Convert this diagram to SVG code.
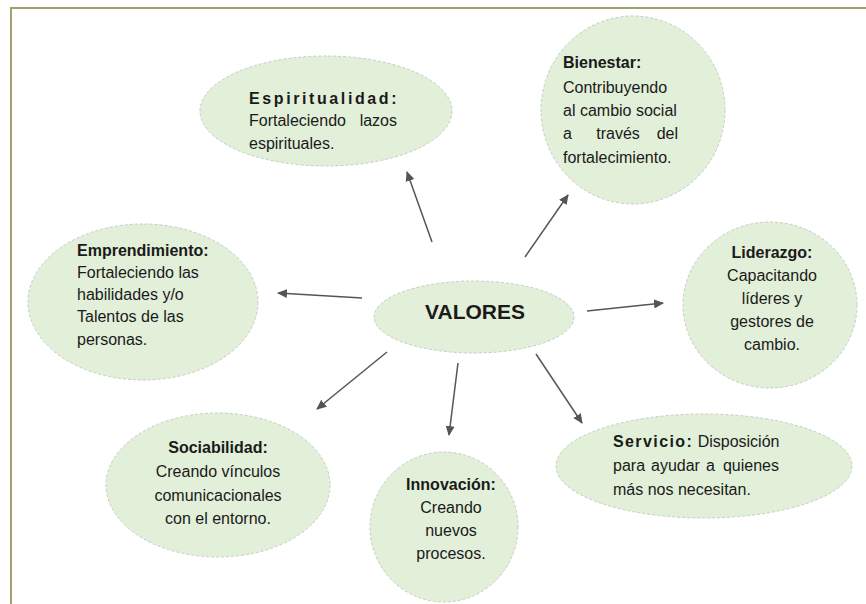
<svg xmlns="http://www.w3.org/2000/svg" width="866" height="604" viewBox="0 0 866 604">
<defs>
<marker id="ah" viewBox="0 0 10 10" refX="9" refY="5" markerWidth="10" markerHeight="10" markerUnits="userSpaceOnUse" orient="auto">
<path d="M0,0.5 L10,5 L0,9.5 Z" fill="#555555"/>
</marker>
<style>
.el{fill:#e2efd9;stroke:#c5ccc6;stroke-width:1;stroke-dasharray:3 2}
.t{font-family:"Liberation Sans",Arial,sans-serif;font-size:16px;fill:#1a1a1a}
.b{font-weight:bold}
.c{text-anchor:middle}
.e{text-anchor:end}
.ar{stroke:#555555;stroke-width:1.5;fill:none;marker-end:url(#ah)}
</style>
</defs>
<rect x="0" y="0" width="866" height="604" fill="#ffffff"/>
<rect x="11" y="8" width="900" height="640" fill="none" stroke="#a39f6f" stroke-width="2"/>

<g id="connectors">
<line class="ar" x1="432" y1="242" x2="407" y2="172"/>
<line class="ar" x1="525" y1="257" x2="568" y2="195"/>
<line class="ar" x1="362" y1="298" x2="278" y2="293"/>
<line class="ar" x1="587" y1="311" x2="663" y2="303"/>
<line class="ar" x1="387" y1="352" x2="317" y2="409"/>
<line class="ar" x1="458" y1="363" x2="449" y2="435"/>
<line class="ar" x1="536" y1="354" x2="582" y2="423"/>
</g>

<g id="valores">
<ellipse class="el" cx="474" cy="317" rx="100" ry="36"/>
<text class="t b c" x="475" y="319" style="font-size:21px">VALORES</text>
</g>

<g id="espiritualidad">
<ellipse class="el" cx="326" cy="111" rx="126" ry="55"/>
<text class="t b" x="249" y="104" letter-spacing="2.6">Espiritualidad:</text>
<text class="t" x="249" y="126">Fortaleciendo</text>
<text class="t e" x="397" y="126">lazos</text>
<text class="t" x="249" y="149">espirituales.</text>
</g>

<g id="bienestar">
<ellipse class="el" cx="633" cy="110" rx="92" ry="94"/>
<text class="t b" x="563" y="68">Bienestar:</text>
<text class="t" x="563" y="93">Contribuyendo</text>
<text class="t" x="563" y="116">al cambio social</text>
<text class="t" x="563" y="139">a</text>
<text class="t c" x="618" y="139">través</text>
<text class="t e" x="678" y="139">del</text>
<text class="t" x="563" y="163">fortalecimiento.</text>
</g>

<g id="emprendimiento">
<ellipse class="el" cx="143" cy="302" rx="115" ry="78"/>
<text class="t b" x="77" y="256">Emprendimiento:</text>
<text class="t" x="77" y="278">Fortaleciendo las</text>
<text class="t" x="77" y="300">habilidades y/o</text>
<text class="t" x="77" y="322">Talentos de las</text>
<text class="t" x="77" y="345">personas.</text>
</g>

<g id="liderazgo">
<ellipse class="el" cx="770" cy="305" rx="87" ry="83"/>
<text class="t b c" x="772" y="258">Liderazgo:</text>
<text class="t c" x="772" y="281">Capacitando</text>
<text class="t c" x="772" y="304">líderes y</text>
<text class="t c" x="772" y="327">gestores de</text>
<text class="t c" x="772" y="350">cambio.</text>
</g>

<g id="sociabilidad">
<ellipse class="el" cx="218" cy="485" rx="112" ry="72"/>
<text class="t b c" x="218" y="453">Sociabilidad:</text>
<text class="t c" x="218" y="477">Creando vínculos</text>
<text class="t c" x="218" y="501">comunicacionales</text>
<text class="t c" x="218" y="524">con el entorno.</text>
</g>

<g id="innovacion">
<ellipse class="el" cx="444" cy="527" rx="74" ry="75"/>
<text class="t b c" x="451" y="490">Innovación:</text>
<text class="t c" x="451" y="513">Creando</text>
<text class="t c" x="451" y="536">nuevos</text>
<text class="t c" x="451" y="559">procesos.</text>
</g>

<g id="servicio">
<ellipse class="el" cx="704" cy="466" rx="148" ry="52"/>
<text class="t" x="613" y="447"><tspan class="b" letter-spacing="1.4">Servicio:</tspan> Disposición</text>
<text class="t" x="613" y="471">para</text>
<text class="t" x="651" y="471">ayudar</text>
<text class="t" x="706" y="471">a</text>
<text class="t e" x="779" y="471">quienes</text>
<text class="t" x="613" y="495">más nos necesitan.</text>
</g>
</svg>
